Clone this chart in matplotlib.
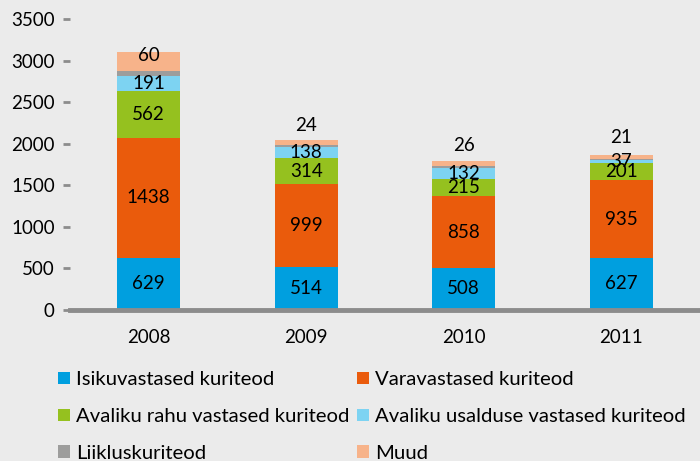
import matplotlib
matplotlib.use("Agg")
import matplotlib.pyplot as plt
import numpy as np

plt.rcParams['font.family'] = ['Lato', 'DejaVu Sans']

years = ["2008", "2009", "2010", "2011"]
isiku = [629, 514, 508, 627]
vara = [1438, 999, 858, 935]
rahu = [562, 314, 215, 201]
usaldus = [191, 138, 132, 37]
liiklus = [50, 25, 20, 20]
muud = [230, 55, 60, 45]
muud_labels = ["60", "24", "26", "21"]

series = [
    ("Isikuvastased kuriteod", isiku, "#009FDF"),
    ("Varavastased kuriteod", vara, "#EA5B0C"),
    ("Avaliku rahu vastased kuriteod", rahu, "#95C11F"),
    ("Avaliku usalduse vastased kuriteod", usaldus, "#7DD3F2"),
    ("Liikluskuriteod", liiklus, "#9D9D9C"),
    ("Muud", muud, "#F7B38A"),
]

bg = "#EBEBEB"
fig = plt.figure(figsize=(7.0, 4.61), dpi=100, facecolor=bg)
ax = fig.add_axes([0.1, 0.3275, 0.9, 0.6313])
ax.set_facecolor(bg)

x = np.arange(len(years))
bottom = np.zeros(len(years))
handles = {}
for name, vals, col in series:
    vals = np.array(vals, dtype=float)
    b = ax.bar(x, vals, bottom=bottom, width=0.4, color=col, label=name, zorder=2)
    handles[name] = b
    if name not in ("Liikluskuriteod", "Muud"):
        for xi, v, bt in zip(x, vals, bottom):
            ax.text(xi, bt + v / 2, f"{int(v)}", ha="center", va="center",
                    fontsize=13.5, color="black", zorder=3)
    bottom = bottom + vals

# Muud labels near top of stacks
offsets_px = [-3, 14, 15, 17]
for xi, top, lab, off in zip(x, bottom, muud_labels, offsets_px):
    ax.annotate(lab, (xi, top), xytext=(0, off * 0.72), textcoords="offset points",
                ha="center", va="center", fontsize=13.5, color="black", zorder=3)

ax.set_xlim(-0.5, 3.5)
ax.set_ylim(0, 3500)
ax.set_yticks(np.arange(0, 3501, 500))
ax.set_xticks(x)
ax.set_xticklabels(years)
for s in ["top", "right", "left"]:
    ax.spines[s].set_visible(False)
ax.spines["bottom"].set_color("#8C8C8C")
ax.spines["bottom"].set_linewidth(3.5)
ax.tick_params(axis="y", length=5, width=2, color="#8C8C8C", labelsize=13.5, pad=6)
ax.tick_params(axis="x", length=0, labelsize=13.5, pad=14)

order = ["Isikuvastased kuriteod", "Avaliku rahu vastased kuriteod", "Liikluskuriteod",
         "Varavastased kuriteod", "Avaliku usalduse vastased kuriteod", "Muud"]
leg = fig.legend([handles[n] for n in order], order, loc="upper left",
                 bbox_to_anchor=(0.083, 0.195), ncol=2, frameon=False,
                 fontsize=14.6, handlelength=0.57, handleheight=0.57, handletextpad=0.3,
                 columnspacing=0.4, labelspacing=0.98, borderaxespad=0, borderpad=0)

fig.savefig("out.png", dpi=100, facecolor=bg)
